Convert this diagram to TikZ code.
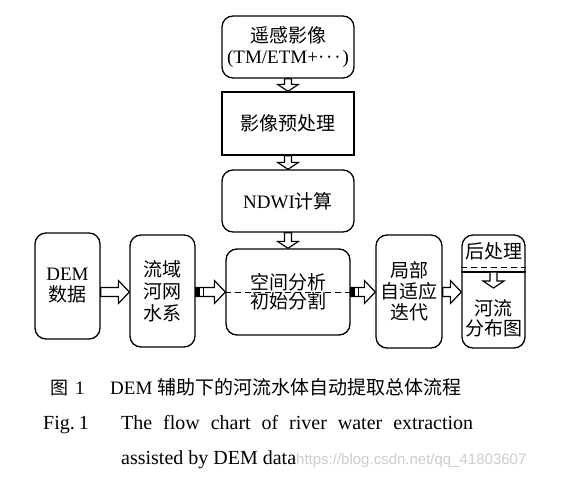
\documentclass[tikz,border=0pt]{standalone}
\usepackage{fontspec}
\setmainfont{Liberation Serif}
\newfontfamily\cjk{Noto Sans CJK SC}
\newfontfamily\wmfont{Liberation Sans}
\usetikzlibrary{calc}
\begin{document}
\begin{tikzpicture}[x=1pt,y=-1pt,
  box/.style={draw, line width=1.3pt, inner sep=0pt, align=center,
    font=\fontsize{19}{21}\selectfont},
  rbox/.style={box, rounded corners=11pt},
  txt/.style={inner sep=0pt, align=center},
  varrow/.style={draw, line width=1.2pt, fill=white, line join=miter,
    to path={let \p1=(\tikztostart), \p2=(\tikztotarget) in
      (\x1-3.5pt,\y1) -- (\x1-3.5pt,\y2+7pt) -- (\x1-10.5pt,\y2+7pt) -- (\x1,\y2)
      -- (\x1+10.5pt,\y2+7pt) -- (\x1+3.5pt,\y2+7pt) -- (\x1+3.5pt,\y1) -- cycle}},
  harrow/.style={draw, line width=1.2pt, fill=white, line join=miter,
    to path={let \p1=(\tikztostart), \p2=(\tikztotarget) in
      (\x1,\y1+4.5pt) -- (\x2-11pt,\y1+4.5pt) -- (\x2-11pt,\y1+11.5pt) -- (\x2,\y1)
      -- (\x2-11pt,\y1-11.5pt) -- (\x2-11pt,\y1-4.5pt) -- (\x1,\y1-4.5pt) -- cycle}},
  dline/.style={line width=1pt, dash pattern=on 6pt off 4pt},
  captxt/.style={anchor=base west, inner sep=0pt},
]
\useasboundingbox[fill=white] (0,0) rectangle (571,477);

% top column
\node[rbox, minimum width=132pt, minimum height=62pt] (b1) at (288,47)
  {{\cjk 遥感影像}\\(TM/ETM+·\kern1.8pt·\kern1.8pt·\kern2pt)};
\node[box, minimum width=132pt, minimum height=63pt] (b2) at (288,123.5)
  {\cjk 影像预处理};
\node[rbox, minimum width=132pt, minimum height=62pt] (b3) at (288,201)
  {NDWI{\cjk 计算}};

% bottom row
\node[rbox, minimum width=65pt, minimum height=106pt] (dem) at (67.5,286)
  {DEM\\{\cjk 数据}};
\node[rbox, minimum width=65pt, minimum height=112pt, font=\cjk\fontsize{19}{22}\selectfont] (ly) at (162.5,291)
  {流域\\河网\\水系};
\node[rbox, minimum width=124pt, minimum height=86pt, font=\cjk\fontsize{19}{17.5}\selectfont] (kj) at (288,292)
  {空间分析\\初始分割};
\node[rbox, minimum width=66pt, minimum height=113pt, font=\cjk\fontsize{19}{21}\selectfont] (jb) at (409,291.5)
  {局部\\自适应\\迭代};
\node[rbox, minimum width=63pt, minimum height=113pt] (hc) at (493.5,291.5) {};
\node[txt, font=\cjk\fontsize{19}{20}\selectfont] (hct1) at (493.5,251) {后处理};
\node[txt, font=\cjk\fontsize{19}{20}\selectfont] (hct2) at (493.5,318.5) {河流\\分布图};

\coordinate (hcd) at (493.5,267);
\coordinate (hcs) at (493.5,272);
\coordinate (hctip) at (493.5,288);
\draw[dline] (hc.west|-hcd) -- (hc.east|-hcd);
\draw[line width=1.3pt] (hc.west|-hcs) -- (hc.east|-hcs);
\draw[varrow] (hcs) to (hctip);

% vertical arrows
\draw[varrow] (b1.south) to (b2.north);
\draw[varrow] (b2.south) to (b3.north);
\draw[varrow] (b3.south) to (kj.north);

% horizontal arrows
\coordinate (mid) at (0,292);
\draw[harrow] (dem.east|-mid) to (ly.west|-mid);
\draw[dline] (kj.west|-mid) -- (kj.east|-mid);
\draw[harrow] (ly.east|-mid) to (kj.west|-mid);
\fill ($(ly.east|-mid)+(0,-4.5)$) rectangle ++(4,9);
\draw[line width=1.2pt] ($(ly.east|-mid)+(8,-4.5)$) -- ++(0,9);
\draw[harrow] (kj.east|-mid) to (jb.west|-mid);
\fill ($(kj.east|-mid)+(0,-4.5)$) rectangle ++(4,9);
\draw[line width=1.2pt] ($(kj.east|-mid)+(8,-4.5)$) -- ++(0,9);
\draw[harrow] (jb.east|-mid) to (hc.west|-mid);

% captions
\node[captxt, font=\cjk\fontsize{18}{18}\selectfont] (c1a) at (50,394) {图};
\node[captxt, font=\fontsize{19}{19}\selectfont] (c1b) at (75,394) {1};
\node[captxt, font=\fontsize{19}{19}\selectfont] (c1c) at (110,394) {DEM};
\node[captxt, font=\cjk\fontsize{19}{19}\selectfont] (c1d) at (157,394) {辅助下的河流水体自动提取总体流程};
\node[captxt, font=\fontsize{20}{20}\selectfont] (c2a) at (43,429) {Fig.\kern4pt 1};
\node[captxt, font=\fontsize{20}{20}\selectfont] (c2b) at (121,429)
  {\makebox[352pt][s]{The flow chart of river water extraction}};
\node[captxt, font=\fontsize{20}{20}\selectfont] (c3a) at (121,464) {assisted by DEM data};
\node[captxt, font=\wmfont\fontsize{15}{15}\selectfont, text=black!20] (wm) at (296,464)
  {https://blog.csdn.net/qq\_41803607};
\end{tikzpicture}
\end{document}
